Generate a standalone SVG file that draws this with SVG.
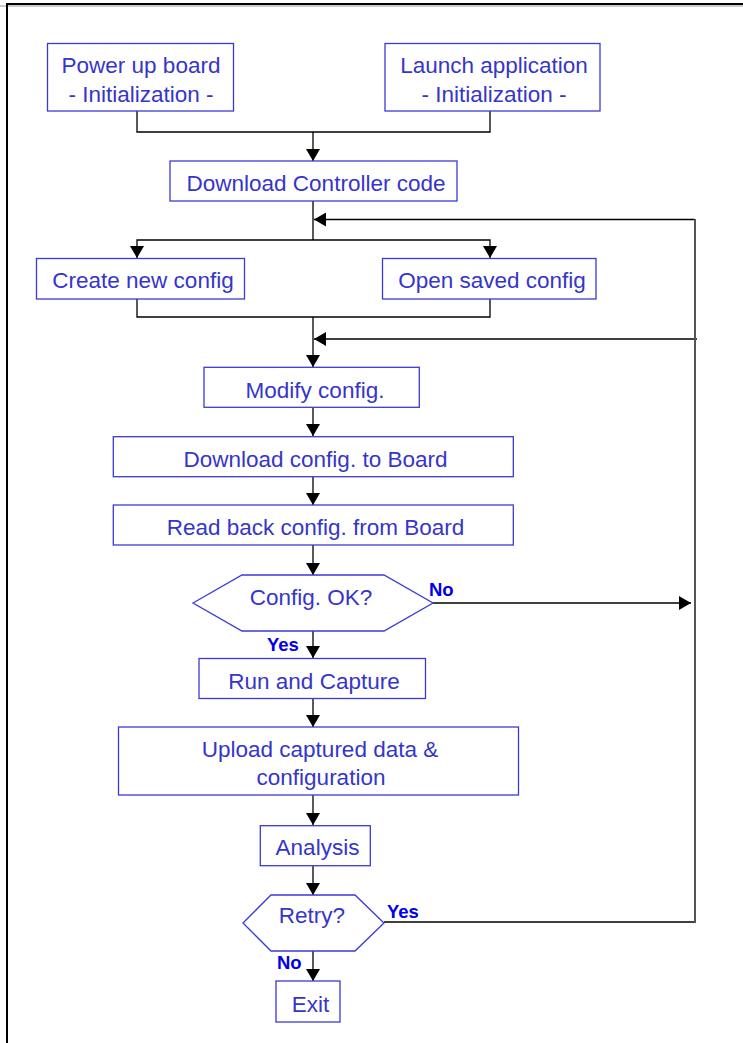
<svg xmlns="http://www.w3.org/2000/svg" width="743" height="1043" viewBox="0 0 743 1043">
<defs>
<marker id="arr" markerUnits="userSpaceOnUse" markerWidth="12" markerHeight="14" viewBox="0 0 12 14" refX="12" refY="7" orient="auto">
<path d="M0,0 L12,7 L0,14 Z" fill="#000"/>
</marker>
</defs>
<style>
.box{fill:#fff;stroke:#3a3ad6;stroke-width:1.3}
.t{font-family:"Liberation Sans",Arial,sans-serif;font-size:22.5px;fill:#3535cc;text-anchor:middle}
.lb{font-family:"Liberation Sans",Arial,sans-serif;font-size:18.5px;font-weight:bold;fill:#0000ee}
.c{fill:none;stroke:#000;stroke-width:1.3}
.ca{fill:none;stroke:#000;stroke-width:1.3;marker-end:url(#arr)}
</style>
<rect width="743" height="1043" fill="#fff"/>
<g id="frame">
<line x1="0" y1="6" x2="743" y2="6" stroke="#999" stroke-width="1"/>
<line x1="6" y1="4" x2="743" y2="4" stroke="#000" stroke-width="2"/>
<line x1="7" y1="3" x2="7" y2="1043" stroke="#000" stroke-width="2"/>
</g>
<g id="connectors">
<path class="c" d="M137,111 V132 H490 V111"/>
<path class="ca" d="M313,132 V161"/>
<path class="c" d="M313,201 V240"/>
<path class="ca" d="M313,240 H137 V258"/>
<path class="ca" d="M313,240 H490 V258"/>
<path class="c" d="M137,299 V317 H490 V299"/>
<path class="ca" d="M313,317 V367"/>
<path class="ca" d="M695,219.5 H314"/>
<path class="ca" d="M697,339 H314"/>
<path class="ca" d="M313,407 V436"/>
<path class="ca" d="M313,477 V505"/>
<path class="ca" d="M313,545 V575"/>
<path class="ca" d="M433,603 H691"/>
<path class="ca" d="M313,631 V658"/>
<path class="ca" d="M313,699 V727"/>
<path class="ca" d="M313,795 V825"/>
<path class="ca" d="M313,866 V895"/>
<path class="ca" d="M313,951 V981"/>
<path class="c" d="M384,922 H695"/>
<line x1="695" y1="219" x2="695" y2="923" stroke="#555" stroke-width="2"/>
</g>
<g id="n-power">
<rect class="box" x="47.5" y="43.5" width="186" height="67.5"/>
<text class="t" x="141" y="73">Power up board</text>
<text class="t" x="141" y="102">- Initialization -</text>
</g>
<g id="n-launch">
<rect class="box" x="385" y="43.5" width="215" height="67.5"/>
<text class="t" x="494" y="73">Launch application</text>
<text class="t" x="494" y="102">- Initialization -</text>
</g>
<g id="n-dlctrl">
<rect class="box" x="170" y="161" width="287" height="40"/>
<text class="t" x="316" y="191">Download Controller code</text>
</g>
<g id="n-create">
<rect class="box" x="36.5" y="258.5" width="208" height="40.5"/>
<text class="t" x="143" y="288">Create new config</text>
</g>
<g id="n-open">
<rect class="box" x="382.5" y="258.5" width="213.5" height="40.5"/>
<text class="t" x="492" y="288">Open saved config</text>
</g>
<g id="n-modify">
<rect class="box" x="204" y="367.3" width="215.3" height="40"/>
<text class="t" x="315" y="398">Modify config.</text>
</g>
<g id="n-dlcfg">
<rect class="box" x="113.3" y="436.7" width="400" height="40"/>
<text class="t" x="315.5" y="467">Download config. to Board</text>
</g>
<g id="n-read">
<rect class="box" x="113.3" y="505" width="400" height="40"/>
<text class="t" x="315.5" y="535">Read back config. from Board</text>
</g>
<g id="n-ok">
<polygon class="box" points="193,603 242,575 384,575 433,603 384,631 242,631"/>
<text class="t" x="311" y="605">Config. OK?</text>
</g>
<g id="n-run">
<rect class="box" x="199" y="658.5" width="226.5" height="40"/>
<text class="t" x="314" y="689">Run and Capture</text>
</g>
<g id="n-upload">
<rect class="box" x="118.5" y="727" width="400" height="68"/>
<text class="t" x="320" y="757">Upload captured data &amp;</text>
<text class="t" x="321" y="785">configuration</text>
</g>
<g id="n-analysis">
<rect class="box" x="260.3" y="825.7" width="110" height="40"/>
<text class="t" x="317.5" y="855">Analysis</text>
</g>
<g id="n-retry">
<polygon class="box" points="243,923 271,895 355,895 384,923 355,951 271,951"/>
<text class="t" x="312" y="923">Retry?</text>
</g>
<g id="n-exit">
<rect class="box" x="276" y="981" width="64" height="41"/>
<text class="t" x="310.5" y="1012">Exit</text>
</g>
<g id="labels">
<text class="lb" x="429" y="596">No</text>
<text class="lb" x="267" y="651">Yes</text>
<text class="lb" x="387" y="918">Yes</text>
<text class="lb" x="277" y="969">No</text>
</g>
</svg>
